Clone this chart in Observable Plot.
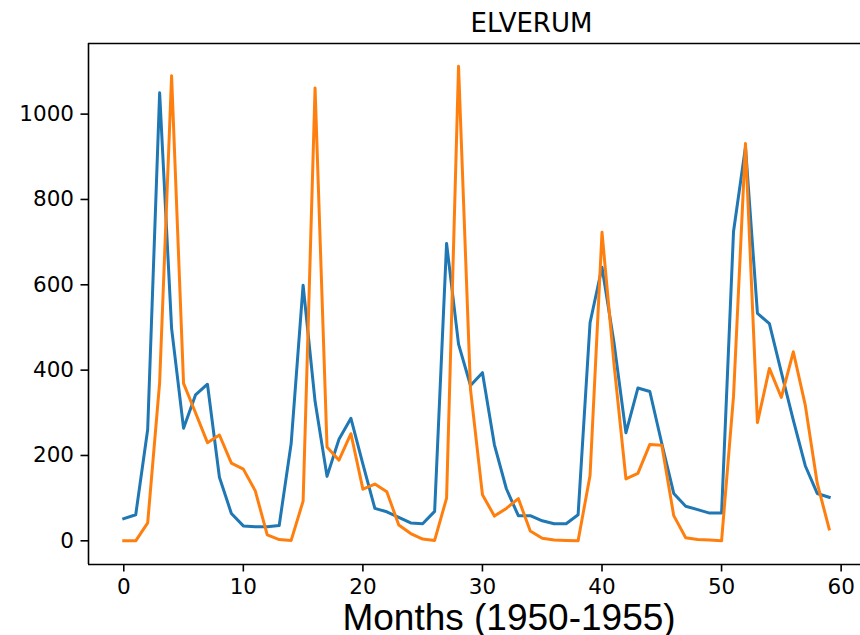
<!DOCTYPE html>
<html>
<head>
<meta charset="utf-8">
<script src="https://cdn.jsdelivr.net/npm/d3@7"></script>
<script src="https://cdn.jsdelivr.net/npm/@observablehq/plot@0.6"></script>
<style>
  html, body { margin: 0; padding: 0; background: #fff; overflow: hidden; }
  svg { display: block; }
</style>
</head>
<body>
<div id="chart"></div>
<script>
const title = "ELVERUM";
const xLabel = "Months (1950-1955)";
const seriesNames = ["series1", "series2"];
const seriesColors = ["#1f77b4", "#ff7f0e"];
const xTicks = [0, 10, 20, 30, 40, 50, 60];
const yTicks = [0, 200, 400, 600, 800, 1000];
const xDomain = [-2.95, 61.62];
const yDomain = [-55.5, 1165.5];

const blue = [52, 61, 261, 1050, 498, 264, 342, 367, 149, 64,
  35, 33, 33, 36, 228, 599, 327, 151, 238, 287,
  180, 76, 68, 55, 42, 40, 69, 697, 461, 364,
  394, 225, 122, 59, 59, 47, 40, 40, 61, 511,
  641, 465, 253, 358, 350, 228, 111, 81, 73, 65,
  65, 725, 923, 533, 509, 395, 283, 176, 111, 102];

const orange = [0, 0, 42, 371, 1090, 369, 300, 230, 248, 182,
  168, 117, 14, 3, 1, 93, 1061, 220, 189, 251,
  121, 133, 115, 37, 17, 4, 1, 100, 1112, 355,
  108, 58, 76, 99, 23, 6, 2, 1, 0, 153,
  723, 415, 145, 158, 226, 224, 59, 7, 3, 2,
  0, 339, 931, 277, 404, 336, 443, 318, 135, 28];

const rows = [];
[blue, orange].forEach((vals, s) => {
  vals.forEach((v, i) => rows.push({series: seriesNames[s], month: i, value: v}));
});

const font = "DejaVu Sans, sans-serif";

const chart = Plot.plot({
  width: 860,
  height: 635,
  marginLeft: 88,
  marginTop: 43,
  marginBottom: 71,
  marginRight: 0,
  style: {fontFamily: font, color: "#000", background: "#fff"},
  x: {domain: xDomain},
  y: {domain: yDomain},
  color: {domain: seriesNames, range: seriesColors},
  marks: [
    Plot.line(rows, {x: "month", y: "value", z: "series", stroke: "series",
      strokeWidth: 3, strokeLinejoin: "round", strokeLinecap: "square"}),
    Plot.ruleX([xDomain[0]], {stroke: "#000", strokeWidth: 1.6}),
    Plot.ruleY([yDomain[0], yDomain[1]], {stroke: "#000", strokeWidth: 1.6}),
    Plot.axisX({ticks: xTicks, tickFormat: d3.format("d"), tickSize: 7.5, tickPadding: 7,
      fontSize: 21.5, strokeWidth: 1.6, label: null, fontFamily: font}),
    Plot.axisY({ticks: yTicks, tickFormat: d3.format("d"), tickSize: 7.5, tickPadding: 7,
      fontSize: 21.5, strokeWidth: 1.6, label: null, fontFamily: font}),
    Plot.text([title], {text: d => d, frameAnchor: "top", dx: 57, dy: -11.3,
      lineAnchor: "bottom", fontSize: 26, fontFamily: font, fill: "#000"}),
    Plot.text([xLabel], {text: d => d, frameAnchor: "bottom", dx: 34.5, dy: 65,
      lineAnchor: "bottom", fontSize: 37, fontFamily: "Liberation Sans, Arial, sans-serif", fill: "#000"})
  ]
});

document.getElementById("chart").appendChild(chart);
</script>
</body>
</html>
